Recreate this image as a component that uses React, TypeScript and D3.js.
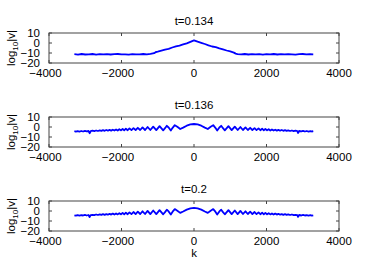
import React from "react";
import { scaleLinear, line } from "d3";

// k positions and log10|v| values
const k134 = [
  -3300, -3200, -3100, -3000, -2900, -2800, -2700, -2600, -2500, -2400, -2300,
  -2200, -2100, -2000, -1900, -1800, -1700, -1600, -1500, -1400, -1300, -1200,
  -1100, -1050, -1000, -900, -800, -700, -600, -500, -400, -300, -200, -100, 0,
  100, 200, 300, 400, 500, 600, 700, 800, 900, 1000, 1100, 1150, 1200, 1300,
  1400, 1500, 1600, 1700, 1800, 1900, 2000, 2100, 2200, 2300, 2400, 2500, 2600,
  2700, 2800, 2900, 3000, 3100, 3200, 3290,
];
const v134 = [
  -11.2, -11.6, -11.0, -11.5, -11.3, -11.0, -11.6, -11.2, -11.4, -11.1, -11.5,
  -11.2, -11.0, -11.4, -11.3, -11.6, -11.1, -11.3, -11.4, -11.0, -11.3, -10.9,
  -10.2, -9.0, -8.6, -7.6, -6.6, -5.9, -4.5, -3.4, -2.6, -1.4, -0.3, 1.2, 2.7,
  1.3, 0.2, -1.0, -2.3, -3.5, -4.1, -5.3, -6.4, -7.5, -8.4, -9.6, -10.6, -11.1,
  -11.3, -11.0, -11.5, -11.2, -11.4, -11.1, -11.6, -11.2, -11.3, -11.0, -11.5,
  -11.2, -11.4, -11.1, -11.3, -11.6, -11.2, -11.0, -11.4, -11.2, -11.3,
];

const k136 = [
  -3300, -3260, -3210, -3160, -3110, -3060, -3010, -2960, -2910, -2880, -2850,
  -2800, -2750, -2700, -2650, -2600, -2555, -2510, -2465, -2420, -2375, -2330,
  -2285, -2240, -2195, -2150, -2105, -2060, -2015, -1970, -1925, -1880, -1830,
  -1780, -1725, -1670, -1610, -1550, -1485, -1420, -1350, -1280, -1205, -1125,
  -1040, -950, -850, -800, -750, -700, -640, -590, -530, -460, -380, -300, -200,
  -100, 0, 100, 200, 300, 380, 460, 530, 590, 640, 700, 750, 800, 850, 950,
  1040, 1125, 1205, 1280, 1350, 1420, 1485, 1550, 1610, 1670, 1725, 1780, 1830,
  1880, 1925, 1970, 2015, 2060, 2105, 2150, 2195, 2240, 2285, 2330, 2375, 2420,
  2465, 2510, 2555, 2600, 2650, 2700, 2750, 2800, 2850, 2870, 2900, 2960, 3010,
  3060, 3110, 3160, 3210, 3250, 3290,
];
const v136 = [
  -4.2, -4.6, -4.1, -4.6, -4.0, -4.5, -3.9, -4.4, -4.0, -6.2, -4.2, -3.7, -4.1,
  -3.5, -4.0, -3.4, -3.9, -3.2, -3.8, -3.0, -3.7, -2.9, -3.6, -2.7, -3.5, -2.5,
  -3.5, -2.2, -3.4, -2.0, -3.3, -1.7, -3.2, -1.4, -3.1, -1.1, -3.0, -0.8, -3.0,
  -0.4, -3.0, 0.0, -3.0, 0.4, -3.1, 0.8, -3.3, -1.2, 1.2, -0.5, -3.5, -0.8, 1.8,
  0.2, -2.0, -0.6, 1.3, 2.6, 3.0, 2.6, 1.3, -0.6, -2.0, 0.2, 1.8, -0.8, -3.5,
  -0.5, 1.2, -1.2, -3.3, 0.8, -3.1, 0.4, -3.0, 0.0, -3.0, -0.4, -3.0, -0.8,
  -3.0, -1.1, -3.1, -1.4, -3.2, -1.7, -3.3, -2.0, -3.4, -2.2, -3.5, -2.5, -3.5,
  -2.7, -3.6, -2.9, -3.7, -3.0, -3.8, -3.2, -3.9, -3.4, -4.0, -3.5, -4.1, -3.7,
  -4.2, -6.0, -4.0, -4.4, -3.9, -4.5, -4.0, -4.6, -4.1, -4.5, -4.2,
];

const k200 = [
  -3300, -3260, -3210, -3160, -3110, -3060, -3010, -2960, -2910, -2880, -2850,
  -2800, -2750, -2700, -2650, -2600, -2555, -2510, -2465, -2420, -2375, -2330,
  -2285, -2240, -2195, -2150, -2105, -2060, -2015, -1970, -1925, -1880, -1830,
  -1780, -1725, -1670, -1610, -1550, -1485, -1420, -1350, -1280, -1205, -1125,
  -1040, -950, -850, -800, -750, -700, -640, -590, -530, -460, -380, -300, -200,
  -100, 0, 100, 200, 300, 380, 460, 530, 590, 640, 700, 750, 800, 850, 950,
  1040, 1125, 1205, 1280, 1350, 1420, 1485, 1550, 1610, 1670, 1725, 1780, 1830,
  1880, 1925, 1970, 2015, 2060, 2105, 2150, 2195, 2240, 2285, 2330, 2375, 2420,
  2465, 2510, 2555, 2600, 2650, 2700, 2750, 2800, 2850, 2870, 2900, 2960, 3010,
  3060, 3110, 3160, 3210, 3250, 3290,
];
const v200 = [
  -4.3, -4.7, -4.1, -4.6, -4.1, -4.5, -3.9, -4.5, -4.0, -6.0, -4.1, -3.8, -4.2,
  -3.5, -4.0, -3.3, -3.9, -3.2, -3.8, -3.1, -3.7, -2.8, -3.6, -2.6, -3.5, -2.4,
  -3.4, -2.2, -3.4, -1.9, -3.3, -1.7, -3.2, -1.4, -3.1, -1.0, -3.1, -0.7, -3.0,
  -0.3, -3.0, 0.1, -3.1, 0.5, -3.1, 0.9, -3.3, -1.1, 1.3, -0.4, -3.6, -0.7, 1.9,
  0.3, -1.9, -0.5, 1.4, 2.7, 3.1, 2.7, 1.4, -0.5, -1.9, 0.3, 1.9, -0.7, -3.6,
  -0.4, 1.3, -1.1, -3.3, 0.9, -3.1, 0.5, -3.1, 0.1, -3.0, -0.3, -3.0, -0.7,
  -3.1, -1.0, -3.1, -1.4, -3.2, -1.7, -3.3, -1.9, -3.4, -2.2, -3.4, -2.4, -3.5,
  -2.6, -3.6, -2.8, -3.7, -3.1, -3.8, -3.2, -3.9, -3.3, -4.0, -3.5, -4.2, -3.8,
  -4.2, -5.9, -4.0, -4.5, -3.9, -4.5, -4.1, -4.6, -4.1, -4.6, -4.3,
];

const titles = ["t=0.134", "t=0.136", "t=0.2"];
const xTicks = [-4000, -2000, 0, 2000, 4000];
const yTicks = [-20, -10, 0, 10];

const W = 374;
const H = 280;
const left = 49;
const right = 339;
const tops = [33, 117, 201];
const ph = 30;
const font = "'Liberation Sans', Arial, Helvetica, sans-serif";

function Panel({ top, title, ks, vs, last }: any) {
  const x = scaleLinear().domain([-4000, 4000]).range([left, right]);
  const y = scaleLinear().domain([-20, 10]).range([top + ph, top]);
  const pts: [number, number][] = ks.map((k: number, i: number) => [k, vs[i]]);
  const path = line<[number, number]>()
    .x((d) => x(d[0]))
    .y((d) => y(d[1]))(pts);
  const fmt = (v: number) => (v < 0 ? "\u2212" + Math.abs(v) : String(v));
  const cy = top + ph / 2;
  return (
    <g>
      <text x={(left + right) / 2} y={top - 8.5} textAnchor="middle" fontSize={11.5}>
        {title}
      </text>
      <path d={path || ""} fill="none" stroke="#0000ff" strokeWidth={1.8} strokeLinejoin="round" />
      <rect x={left} y={top} width={right - left} height={ph} fill="none" stroke="#444" strokeWidth={1} />
      {xTicks.map((t) => (
        <g key={"x" + t}>
          <line x1={x(t)} x2={x(t)} y1={top + ph} y2={top + ph - 3} stroke="#444" />
          <line x1={x(t)} x2={x(t)} y1={top} y2={top + 3} stroke="#444" />
          <text x={x(t) + (t < 0 ? -3.5 : 0)} y={top + ph + 13.5} textAnchor="middle" fontSize={11.5}>
            {fmt(t)}
          </text>
        </g>
      ))}
      {yTicks.map((t) => (
        <g key={"y" + t}>
          <line x1={left} x2={left + 3} y1={y(t)} y2={y(t)} stroke="#444" />
          <line x1={right} x2={right - 3} y1={y(t)} y2={y(t)} stroke="#444" />
          <text x={40} y={y(t)} dy="0.38em" textAnchor="end" fontSize={11.5}>
            {fmt(t)}
          </text>
        </g>
      ))}
      <text transform={`translate(15,${cy}) rotate(-90)`} textAnchor="middle" fontSize={11.5}>
        log<tspan fontSize={8} dy={3}>10</tspan>
        <tspan dy={-3}>|v|</tspan>
      </text>
      {last && (
        <text x={(left + right) / 2} y={top + ph + 25.5} textAnchor="middle" fontSize={11.5}>
          k
        </text>
      )}
    </g>
  );
}

export default function App() {
  return (
    <svg
      width={W}
      height={H}
      style={{ position: "absolute", left: 0, top: 0, background: "#fff" }}
      fontFamily={font}
    >
      <rect width={W} height={H} fill="#fff" />
      <Panel top={tops[0]} title={titles[0]} ks={k134} vs={v134} />
      <Panel top={tops[1]} title={titles[1]} ks={k136} vs={v136} />
      <Panel top={tops[2]} title={titles[2]} ks={k200} vs={v200} last />
    </svg>
  );
}
